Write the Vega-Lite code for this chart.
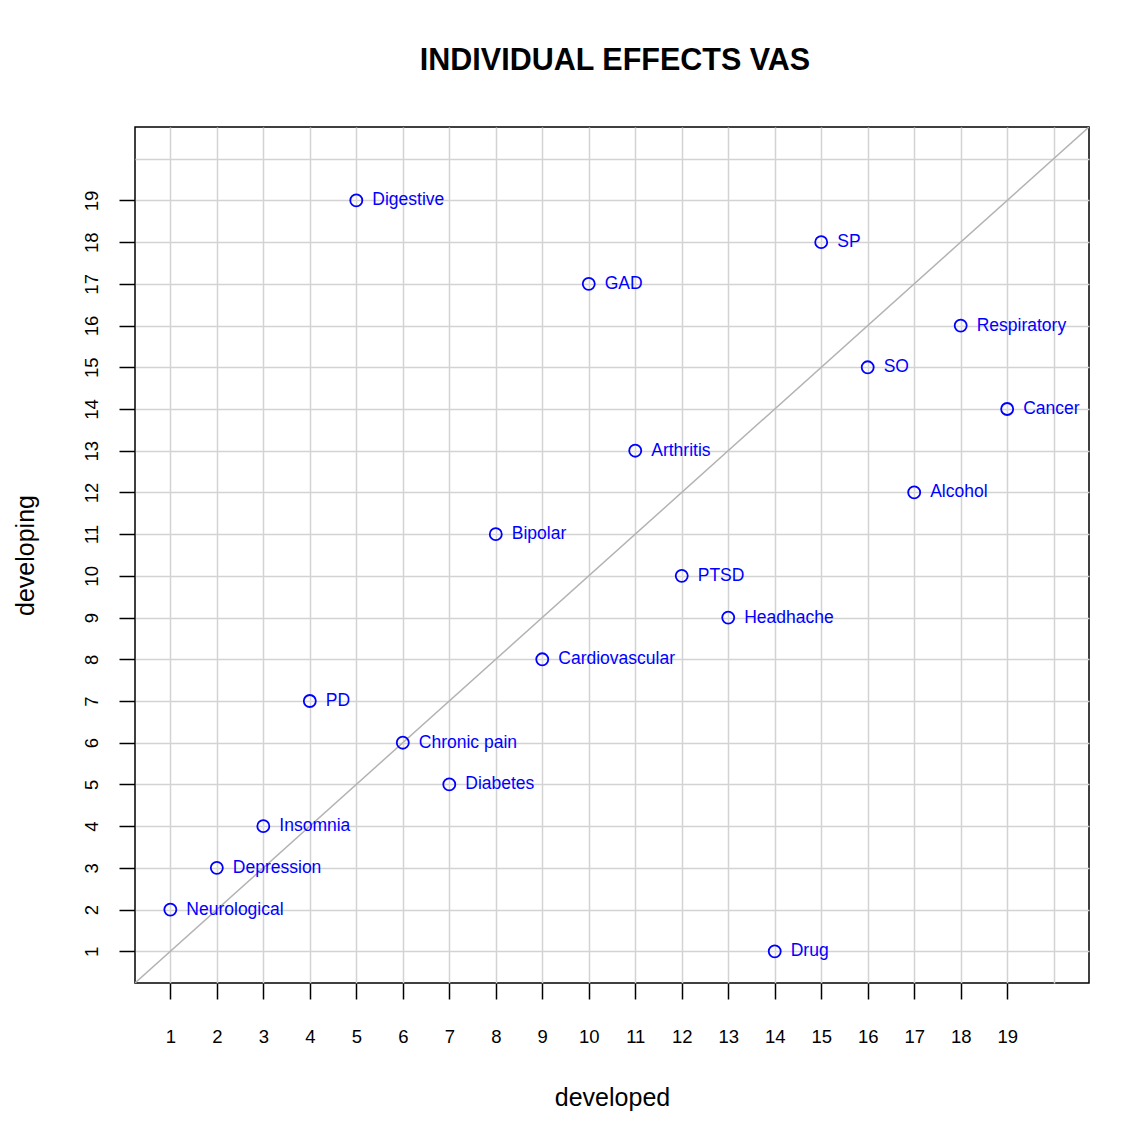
{
  "$schema": "https://vega.github.io/schema/vega-lite/v6.json",
  "width": 954,
  "height": 856,
  "autosize": {"type": "none"},
  "padding": {"left": 135, "top": 127, "right": 44, "bottom": 147},
  "background": "white",
  "title": {
    "text": "INDIVIDUAL EFFECTS VAS",
    "fontSize": 30.5,
    "font": "Liberation Sans",
    "fontWeight": "bold",
    "color": "black",
    "anchor": "middle",
    "baseline": "alphabetic",
    "offset": 27,
    "dx": 3,
    "frame": "group"
  },
  "config": {
    "view": {"stroke": "black", "strokeWidth": 1.5},
    "font": "Liberation Sans"
  },
  "datasets": {
    "points": [
      {"label": "Digestive", "developed": 5, "developing": 19},
      {"label": "SP", "developed": 15, "developing": 18},
      {"label": "GAD", "developed": 10, "developing": 17},
      {"label": "Respiratory", "developed": 18, "developing": 16},
      {"label": "SO", "developed": 16, "developing": 15},
      {"label": "Cancer", "developed": 19, "developing": 14},
      {"label": "Arthritis", "developed": 11, "developing": 13},
      {"label": "Alcohol", "developed": 17, "developing": 12},
      {"label": "Bipolar", "developed": 8, "developing": 11},
      {"label": "PTSD", "developed": 12, "developing": 10},
      {"label": "Headhache", "developed": 13, "developing": 9},
      {"label": "Cardiovascular", "developed": 9, "developing": 8},
      {"label": "PD", "developed": 4, "developing": 7},
      {"label": "Chronic pain", "developed": 6, "developing": 6},
      {"label": "Diabetes", "developed": 7, "developing": 5},
      {"label": "Insomnia", "developed": 3, "developing": 4},
      {"label": "Depression", "developed": 2, "developing": 3},
      {"label": "Neurological", "developed": 1, "developing": 2},
      {"label": "Drug", "developed": 14, "developing": 1}
    ],
    "diag": [{"v": 0.24}, {"v": 20.76}]
  },
  "resolve": {"axis": {"x": "independent", "y": "independent"}},
  "layer": [
    {
      "data": {"name": "diag"},
      "mark": {"type": "line", "color": "#b3b3b3", "strokeWidth": 1.5, "clip": true},
      "encoding": {
        "x": {
          "field": "v", "type": "quantitative",
          "scale": {"domain": [0.24, 20.76], "nice": false, "zero": false},
          "axis": {"orient": "top", "values": [1,2,3,4,5,6,7,8,9,10,11,12,13,14,15,16,17,18,19,20], "grid": true, "gridColor": "#d3d3d3", "gridWidth": 1.5, "ticks": false, "labels": false, "domain": false, "title": null}
        },
        "y": {
          "field": "v", "type": "quantitative",
          "scale": {"domain": [0.24, 20.76], "nice": false, "zero": false},
          "axis": {"orient": "right", "values": [1,2,3,4,5,6,7,8,9,10,11,12,13,14,15,16,17,18,19,20], "grid": true, "gridColor": "#d3d3d3", "gridWidth": 1.5, "ticks": false, "labels": false, "domain": false, "title": null}
        }
      }
    },
    {
      "data": {"name": "points"},
      "mark": {"type": "point", "shape": "circle", "filled": false, "color": "blue", "strokeWidth": 1.8, "size": 145, "opacity": 1},
      "encoding": {
        "x": {
          "field": "developed", "type": "quantitative",
          "scale": {"domain": [0.24, 20.76], "nice": false, "zero": false},
          "axis": {
            "orient": "bottom",
            "values": [1,2,3,4,5,6,7,8,9,10,11,12,13,14,15,16,17,18,19],
            "grid": false, "domain": false,
            "tickColor": "black", "tickSize": 16, "tickWidth": 1.5,
            "labelFontSize": 18.5, "labelColor": "black", "labelBaseline": "alphabetic", "labelPadding": 43,
            "labelFlush": false, "labelOverlap": false,
            "title": "developed", "titleFontSize": 25, "titleFontWeight": "normal", "titleColor": "black",
            "titleBaseline": "alphabetic", "titleY": 122
          }
        },
        "y": {
          "field": "developing", "type": "quantitative",
          "scale": {"domain": [0.24, 20.76], "nice": false, "zero": false},
          "axis": {
            "orient": "left",
            "values": [1,2,3,4,5,6,7,8,9,10,11,12,13,14,15,16,17,18,19],
            "grid": false, "domain": false,
            "tickColor": "black", "tickSize": 16, "tickWidth": 1.5,
            "labelFontSize": 18.5, "labelColor": "black", "labelAngle": -90, "labelAlign": "center", "labelBaseline": "alphabetic", "labelPadding": 22,
            "labelFlush": false, "labelOverlap": false,
            "title": "developing", "titleFontSize": 25, "titleFontWeight": "normal", "titleColor": "black",
            "titleAngle": -90, "titleBaseline": "alphabetic", "titleX": -102
          }
        }
      }
    },
    {
      "data": {"name": "points"},
      "mark": {"type": "text", "align": "left", "baseline": "middle", "dx": 16, "fontSize": 17.5, "color": "blue"},
      "encoding": {
        "x": {"field": "developed", "type": "quantitative", "scale": {"domain": [0.24, 20.76], "nice": false, "zero": false}, "axis": null},
        "y": {"field": "developing", "type": "quantitative", "scale": {"domain": [0.24, 20.76], "nice": false, "zero": false}, "axis": null},
        "text": {"field": "label"}
      }
    }
  ]
}
